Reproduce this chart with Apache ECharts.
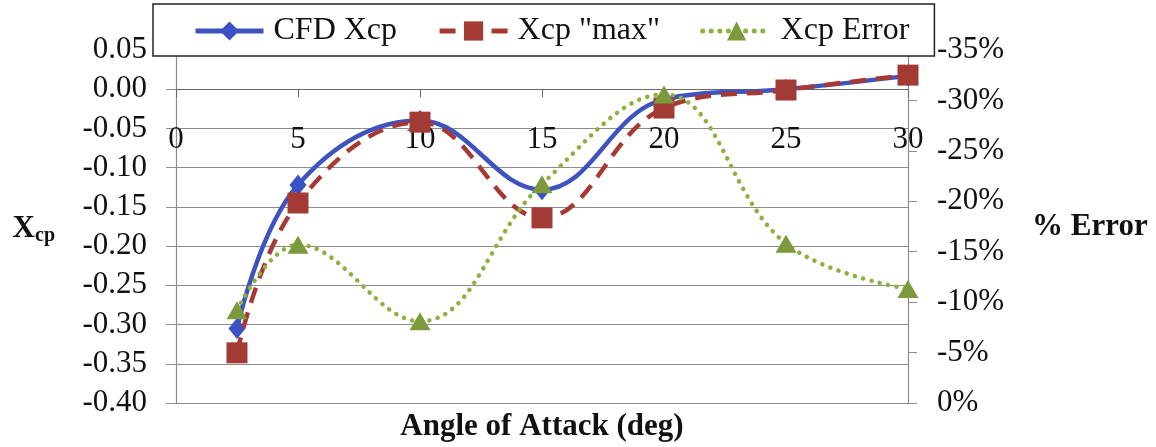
<!DOCTYPE html>
<html>
<head>
<meta charset="utf-8">
<script src="https://cdn.jsdelivr.net/npm/echarts@6/dist/echarts.min.js"></script>
<style>
html,body{margin:0;padding:0;background:#fff;}
#chart{width:1156px;height:447px;}
</style>
</head>
<body>
<div id="chart"></div>
<script>
// Data
var angles = [2.5, 5, 10, 15, 20, 25, 30];
var cfdXcp = [-0.305, -0.122, -0.040, -0.128, -0.013, 0.000, 0.017];
var xcpMax = [-0.336, -0.145, -0.042, -0.164, -0.024, -0.001, 0.018];
var xcpError = [-9.2, -15.7, -8.1, -21.7, -30.6, -15.8, -11.3];
var seriesNames = ['CFD Xcp', 'Xcp "max"', 'Xcp Error'];
var yMin = -0.4, yMax = 0.05;

function pairs(xs, ys) {
  return xs.map(function (x, i) { return [x, ys[i]]; });
}

var FONT = '"Liberation Serif", "Times New Roman", serif';
var GRID_C = '#8c8c8c';
var W = 1156, H = 447;
var gridLeft = 176, gridRight = 248, gridTop = 50, gridBottom = 44;
var plotH = H - gridTop - gridBottom;
// x axis crosses the left value axis at 0: shift it up from the bottom edge
var xAxisShift = -plotH * (0 - yMin) / (yMax - yMin);

var chart = echarts.init(document.getElementById('chart'), null, {renderer: 'canvas'});
chart.setOption({
  animation: false,
  backgroundColor: '#fff',
  textStyle: {fontFamily: FONT, color: '#111'},
  title: {
    text: 'Angle of Attack (deg)',
    left: gridLeft + (W - gridLeft - gridRight) / 2,
    textAlign: 'center',
    top: 411,
    padding: 0,
    textStyle: {fontFamily: FONT, fontSize: 31, fontWeight: 'bold', color: '#111'}
  },
  grid: {left: gridLeft, right: gridRight, top: gridTop, bottom: gridBottom, containLabel: false},
  legend: {
    left: 153, top: 4,
    padding: [11, 25, 9, 40],
    itemGap: 40,
    itemWidth: 68,
    itemHeight: 24,
    borderColor: '#222',
    borderWidth: 1.5,
    backgroundColor: '#fff',
    z: 20,
    lineStyle: {width: 5},
    textStyle: {fontFamily: FONT, fontSize: 32, color: '#111', padding: [0, 0, 0, 5]},
    data: seriesNames
  },
  xAxis: {
    type: 'value', min: 0, max: 30, interval: 5,
    position: 'bottom',
    offset: xAxisShift,
    axisLine: {onZero: false, lineStyle: {color: '#666', width: 1.2}},
    axisTick: {show: true, inside: false, length: 8, lineStyle: {color: '#666'}},
    axisLabel: {fontFamily: FONT, fontSize: 31, color: '#111', margin: 35, showMinLabel: true, showMaxLabel: true},
    splitLine: {show: false}
  },
  yAxis: [
    {
      type: 'value', min: yMin, max: yMax, interval: 0.05,
      position: 'left',
      name: '{x|X}{s|cp}',
      nameLocation: 'middle', nameRotate: 0, nameGap: 121,
      nameTextStyle: {
        padding: [4, 0, 0, 0],
        rich: {
          x: {fontFamily: FONT, fontSize: 31, fontWeight: 'bold', color: '#111'},
          s: {fontFamily: FONT, fontSize: 20, fontWeight: 'bold', color: '#111', padding: [14, 0, 0, 0]}
        }
      },
      axisLine: {show: true, onZero: false, lineStyle: {color: GRID_C, width: 1.2}},
      axisTick: {show: true, inside: false, length: 10, lineStyle: {color: GRID_C}},
      axisLabel: {
        fontFamily: FONT, fontSize: 31, color: '#111', margin: 29, padding: [3, 0, 0, 0],
        formatter: function (v) { return (Math.abs(v) < 1e-9 ? 0 : v).toFixed(2); }
      },
      splitLine: {show: true, lineStyle: {color: GRID_C, width: 1.2}}
    },
    {
      type: 'value', min: -35, max: 0, interval: 5, inverse: true,
      position: 'right',
      name: '% Error',
      nameLocation: 'middle', nameRotate: 0, nameGap: 124,
      nameTextStyle: {fontFamily: FONT, fontSize: 31, fontWeight: 'bold', color: '#111', padding: [4, 0, 0, 0]},
      axisLine: {show: true, onZero: false, lineStyle: {color: GRID_C, width: 1.2}},
      axisTick: {show: true, inside: false, length: 9, lineStyle: {color: GRID_C}},
      axisLabel: {
        fontFamily: FONT, fontSize: 31, color: '#111', margin: 29, padding: [3, 0, 0, 0],
        formatter: function (v) { return Math.round(v) + '%'; }
      },
      splitLine: {show: false}
    }
  ],
  series: [
    {
      name: seriesNames[0], type: 'line', yAxisIndex: 0,
      data: pairs(angles, cfdXcp), smooth: 0.4,
      symbol: 'diamond', symbolSize: [17, 21],
      lineStyle: {color: '#3e53c0', width: 4.5},
      itemStyle: {color: '#3b52c4'},
      z: 3
    },
    {
      name: seriesNames[1], type: 'line', yAxisIndex: 0,
      data: pairs(angles, xcpMax), smooth: 0.4,
      symbol: 'rect', symbolSize: 21,
      lineStyle: {color: '#a63a33', width: 4.5, type: [16, 10]},
      itemStyle: {color: '#a33b35'},
      z: 4
    },
    {
      name: seriesNames[2], type: 'line', yAxisIndex: 1,
      data: pairs(angles, xcpError), smooth: 0.4,
      symbol: 'triangle', symbolSize: [21, 18],
      lineStyle: {color: '#8cb13e', width: 4.5, type: [0.1, 8.5], cap: 'round'},
      itemStyle: {color: '#7c9a3c'},
      z: 5
    }
  ]
});
</script>
</body>
</html>
